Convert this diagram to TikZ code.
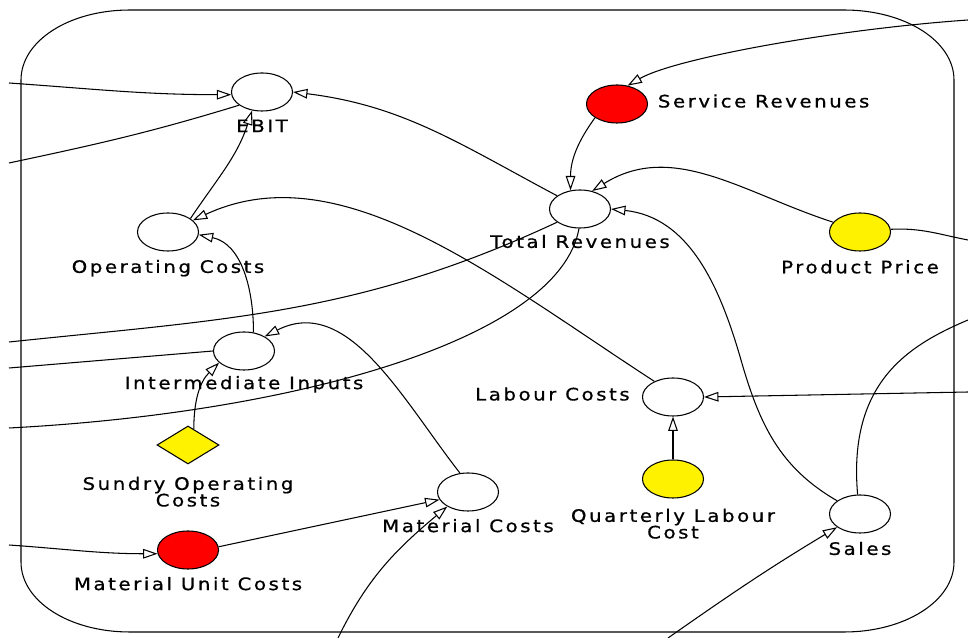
\documentclass[tikz,border=0pt]{standalone}
\usepackage{fontspec}
\newfontfamily\lblfont[FakeStretch=1.15,LetterSpace=15,FakeBold=0.8]{DejaVu Sans}
\usetikzlibrary{arrows.meta,positioning,shapes.geometric}

\begin{document}
\begin{tikzpicture}
  [x=0.025cm, y=0.025cm,
   line/.style={line width=0.75pt},
   post/.style={line,-{Triangle[open,length=3.6mm,width=2.4mm]}},
   var/.style={ellipse,draw,line width=0.75pt,minimum width=1.525cm,
               minimum height=0.95cm,inner sep=0pt},
   var red/.style={var,fill=red},
   var yellow/.style={var,fill=yellow},
   lookup/.style={diamond,draw,fill=yellow,line width=0.75pt,
                  minimum width=1.55cm,minimum height=0.95cm,inner sep=0pt},
   lbl/.style={font=\lblfont\fontsize{12.2pt}{12pt}\selectfont,
               inner sep=0pt,text height=0.73em,text depth=0.24em},
   lbl2/.style={font=\lblfont\fontsize{12.2pt}{11.8pt}\selectfont,
                inner sep=0pt,align=center}]

  \useasboundingbox (0,0) rectangle (968,638);

  % model frame
  \draw[line] (130,628) -- (844,628)
    .. controls (905,628) and (954,597) .. (954,558) -- (954,76)
    .. controls (954,37) and (905,6) .. (844,6) -- (130,6)
    .. controls (69,6) and (21,37) .. (21,76) -- (21,558)
    .. controls (21,597) and (69,628) .. (130,628) -- cycle;

  % variables
  \node[var]        (ebit)      at (262,546) {};
  \node[var red]    (service)   at (617,534) {};
  \node[var]        (total)     at (580,429) {};
  \node[var yellow] (price)     at (860,406) {};
  \node[var]        (opcost)    at (168,406) {};
  \node[var]        (inter)     at (244,287) {};
  \node[lookup]     (sundry)    at (188,193) {};
  \node[var red]    (unitcost)  at (188,88)  {};
  \node[var]        (material)  at (468,146) {};
  \node[var]        (labour)    at (673,241) {};
  \node[var yellow] (quarterly) at (673,159) {};
  \node[var]        (sales)     at (860,124) {};

  % labels
  \node[lbl]  (ebit-l)      [below=0.25cm of ebit]      {EBIT};
  \node[lbl]  (service-l)   [right=0.24cm of service]   {Service Revenues};
  \node[lbl]  (total-l)     [below=0.22cm of total]     {Total Revenues};
  \node[lbl]  (price-l)     [below=0.28cm of price]     {Product Price};
  \node[lbl]  (opcost-l)    [below=0.27cm of opcost]    {Operating Costs};
  \node[lbl]  (inter-l)     [below=0.2cm of inter]      {Intermediate Inputs};
  \node[lbl2] (sundry-l)    [below=0.3cm of sundry]     {Sundry Operating\\Costs};
  \node[lbl]  (unitcost-l)  [below=0.25cm of unitcost]  {Material Unit Costs};
  \node[lbl]  (material-l)  [below=0.25cm of material]  {Material Costs};
  \node[lbl]  (labour-l)    [left=0.3cm of labour]      {Labour Costs};
  \node[lbl2] (quarterly-l) [below=0.25cm of quarterly] {Quarterly Labour\\Cost};
  \node[lbl]  (sales-l)     [below=0.27cm of sales]     {Sales};

  % links leaving the frame
  \coordinate (ebit-in)    at (9,555);
  \coordinate (ebit-out)   at (9,475);
  \coordinate (service-in) at (968,618);
  \coordinate (price-out)  at (968,398);
  \coordinate (total-out)  at (9,296);
  \coordinate (total-out2) at (9,210);
  \coordinate (inter-out)  at (9,270);
  \coordinate (unit-in)    at (9,93);
  \coordinate (mat-in)     at (338,0);
  \coordinate (labour-in)  at (968,246);
  \coordinate (sales-in)   at (668,0);
  \coordinate (sales-out)  at (968,318);
  \coordinate (sales-bend) at (741,278);

  \draw[post] (ebit-in) to[out=-4,in=180] (ebit.185);
  \draw[line] (ebit.210) to[out=197,in=12] (ebit-out);
  \draw[post] (total.150) to[out=152,in=-7] (ebit.east);
  \draw[post] (opcost.31) to[out=56,in=-108] (ebit.-118);

  \draw[post] (service-in) to[out=184,in=30,in looseness=0.4] (service.60);
  \draw[post] (service.212) to[out=234,in=90] (total.117);
  \draw[post] (price.160) to[out=162,in=32] (total.56);
  \draw[post] (sales.150) to[out=150,in=-74] (sales-bend)
                          to[out=106,in=-6] (total.east);
  \draw[line] (price.5) to[out=3,in=169] (price-out);

  \draw[post] (labour.140) to[out=147,in=25,in looseness=0.85] (opcost.25);
  \draw[post] (inter.63) to[out=90,in=-12] (opcost.-5);
  \draw[line] (total.210) to[out=205,in=6] (total-out);
  \draw[line] (total.-93) to[out=-100,in=3,out looseness=0.47,in looseness=1.23] (total-out2);
  \draw[line] (inter.west) -- (inter-out);

  \draw[post] (sundry.70) to[out=90,in=225] (inter.205);
  \draw[post] (material.113) to[out=128,in=27] (inter.35);
  \draw[post] (unitcost.6) -- (material.195);
  \draw[post] (unit-in) to[out=-4,in=180] (unitcost.187);
  \draw[post] (mat-in) to[out=64,in=220] (material.215);

  \draw[post] (quarterly) -- (labour);
  \draw[post] (labour-in) -- (labour.east);
  \draw[post] (sales-in) to[out=35,in=211] (sales.210);
  \draw[line] (sales.97) to[out=95,in=203,out looseness=1.4,in looseness=0.8] (sales-out);
\end{tikzpicture}
\end{document}
